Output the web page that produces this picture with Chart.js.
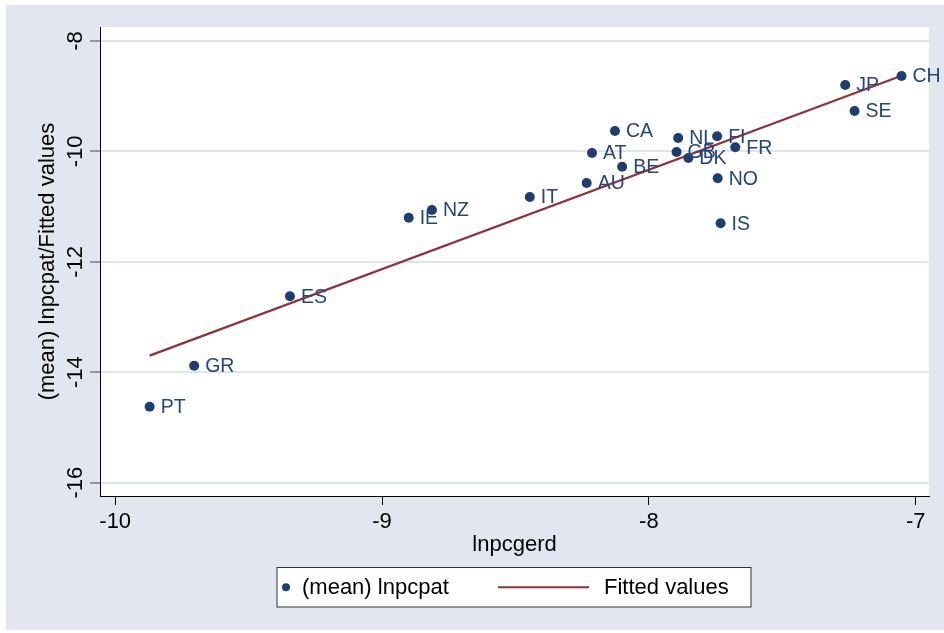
<!DOCTYPE html>
<html>
<head>
<meta charset="utf-8">
<title>lnpcpat vs lnpcgerd</title>
<script src="https://cdn.jsdelivr.net/npm/chart.js@4.4.1/dist/chart.umd.min.js"></script>
<style>
    html, body { margin: 0; padding: 0; background: #ffffff; }
    #wrap { width: 944px; height: 633px; }
</style>
</head>
<body>
<div id="wrap"><canvas id="scatterChart" width="944" height="633"></canvas></div>
<script>
// Country codes used as marker labels
const countries = ['PT', 'GR', 'ES', 'IE', 'NZ', 'IT', 'AU', 'AT', 'BE', 'CA',
                   'NL', 'GB', 'DK', 'FI', 'FR', 'NO', 'IS', 'JP', 'SE', 'CH'];

// lnpcgerd (x) and (mean) lnpcpat (y) for each country
const lnpcgerd = [-9.871, -9.704, -9.345, -8.900, -8.813, -8.446, -8.233, -8.213, -8.100, -8.127,
                  -7.890, -7.896, -7.852, -7.744, -7.676, -7.742, -7.731, -7.264, -7.229, -7.053];
const lnpcpat = [-14.625, -13.882, -12.625, -11.201, -11.062, -10.826, -10.572, -10.029, -10.277, -9.630,
                 -9.757, -10.011, -10.120, -9.726, -9.926, -10.487, -11.303, -8.797, -9.268, -8.634];

// Fitted line end points
const fitX = [-9.871, -7.053];
const fitY = [-13.70, -8.63];

// Tick labels
const xTicks = [-10, -9, -8, -7];
const yTicks = [-8, -10, -12, -14, -16];

const FONT = "'Liberation Sans', Arial, sans-serif";
const NAVY = '#1f3d6d';
const LABEL = '#26467a';
const MAROON = '#913238';
const BACK = '#e1e6f0';

// Build point lists for the library
const points = lnpcgerd.map((x, i) => ({ x: x, y: lnpcpat[i] }));
const fitted = fitX.map((x, i) => ({ x: x, y: fitY[i] }));

// Plugin: outer background and white plot region
const plotBackground = {
    id: 'plotBackground',
    beforeDraw: (chart) => {
        const ctx = chart.ctx;
        const a = chart.chartArea;
        ctx.save();
        ctx.fillStyle = '#ffffff';
        ctx.fillRect(0, 0, chart.width, chart.height);
        ctx.fillStyle = BACK;
        ctx.fillRect(6, 5, chart.width - 6, chart.height - 8);
        ctx.fillStyle = '#ffffff';
        ctx.fillRect(a.left, a.top, a.right - a.left, a.bottom - a.top);
        ctx.restore();
    }
};

// Plugin: country labels to the right of each marker
const markerLabels = {
    id: 'markerLabels',
    afterDatasetsDraw: (chart) => {
        const ctx = chart.ctx;
        const meta = chart.getDatasetMeta(0);
        ctx.save();
        ctx.font = '19.5px ' + FONT;
        ctx.fillStyle = LABEL;
        ctx.textAlign = 'left';
        ctx.textBaseline = 'middle';
        meta.data.forEach((pt, i) => {
            ctx.fillText(countries[i], pt.x + 11, pt.y + 1);
        });
        ctx.restore();
    }
};

// Plugin: rotated y tick labels, axis titles and the boxed legend
const axisText = {
    id: 'axisText',
    afterDraw: (chart) => {
        const ctx = chart.ctx;
        const a = chart.chartArea;
        const yScale = chart.scales.y;
        ctx.save();

        // y tick labels, read bottom to top
        ctx.font = '22px ' + FONT;
        ctx.fillStyle = '#000000';
        ctx.textAlign = 'center';
        ctx.textBaseline = 'middle';
        yTicks.forEach((v) => {
            const py = yScale.getPixelForValue(v);
            ctx.save();
            ctx.translate(76, py);
            ctx.rotate(-Math.PI / 2);
            ctx.fillText(String(v), 0, 0);
            ctx.restore();
        });

        // y axis title
        ctx.save();
        ctx.translate(48, (a.top + a.bottom) / 2);
        ctx.rotate(-Math.PI / 2);
        ctx.fillText('(mean) lnpcpat/Fitted values', 0, 0);
        ctx.restore();

        // x axis title
        ctx.fillText('lnpcgerd', (a.left + a.right) / 2, 545);

        // legend box
        const bx = 277, by = 567.5, bw = 474, bh = 39.5;
        ctx.fillStyle = '#ffffff';
        ctx.fillRect(bx, by, bw, bh);
        ctx.strokeStyle = '#333333';
        ctx.lineWidth = 1;
        ctx.strokeRect(bx, by, bw, bh);

        const ly = by + bh / 2;
        const sets = chart.data.datasets;

        // scatter entry
        ctx.fillStyle = NAVY;
        ctx.beginPath();
        ctx.arc(286, ly, 4, 0, Math.PI * 2);
        ctx.fill();
        ctx.fillStyle = '#000000';
        ctx.textAlign = 'left';
        ctx.fillText(sets[0].label, 302, ly + 1);

        // fitted line entry
        ctx.strokeStyle = MAROON;
        ctx.lineWidth = 2;
        ctx.beginPath();
        ctx.moveTo(498, ly);
        ctx.lineTo(589, ly);
        ctx.stroke();
        ctx.fillText(sets[1].label, 604, ly + 1);

        ctx.restore();
    }
};

new Chart(document.getElementById('scatterChart'), {
    type: 'scatter',
    data: {
        datasets: [{
            label: '(mean) lnpcpat',
            data: points,
            backgroundColor: NAVY,
            borderWidth: 0,
            pointRadius: 5,
            order: 1
        }, {
            label: 'Fitted values',
            type: 'line',
            data: fitted,
            borderColor: MAROON,
            borderWidth: 2.2,
            pointRadius: 0,
            fill: false,
            order: 2
        }]
    },
    options: {
        responsive: false,
        animation: false,
        devicePixelRatio: 1,
        layout: { padding: { left: 0, top: 27, right: 15, bottom: 0 } },
        plugins: {
            legend: { display: false },
            tooltip: { enabled: false }
        },
        scales: {
            x: {
                type: 'linear',
                min: -10.057,
                max: -6.95,
                afterBuildTicks: (scale) => { scale.ticks = xTicks.map(v => ({ value: v })); },
                afterFit: (scale) => { scale.height = 137; },
                grid: {
                    drawOnChartArea: false,
                    drawTicks: true,
                    tickLength: 9,
                    tickColor: '#000000',
                    tickWidth: 1
                },
                border: { display: true, color: '#000000', width: 1 },
                ticks: {
                    color: '#000000',
                    padding: 4,
                    maxRotation: 0,
                    font: { family: FONT, size: 22 }
                }
            },
            y: {
                type: 'linear',
                min: -16.243,
                max: -7.746,
                afterBuildTicks: (scale) => { scale.ticks = yTicks.map(v => ({ value: v })); },
                afterFit: (scale) => { scale.width = 100; },
                grid: {
                    color: '#dde3ef',
                    lineWidth: 2,
                    drawTicks: true,
                    tickLength: 10,
                    tickColor: '#444444',
                    tickWidth: 1
                },
                border: { display: true, color: '#000000', width: 1 },
                ticks: {
                    color: 'rgba(0,0,0,0)',
                    font: { family: FONT, size: 22 }
                }
            }
        }
    },
    plugins: [plotBackground, markerLabels, axisText]
});
</script>
</body>
</html>
